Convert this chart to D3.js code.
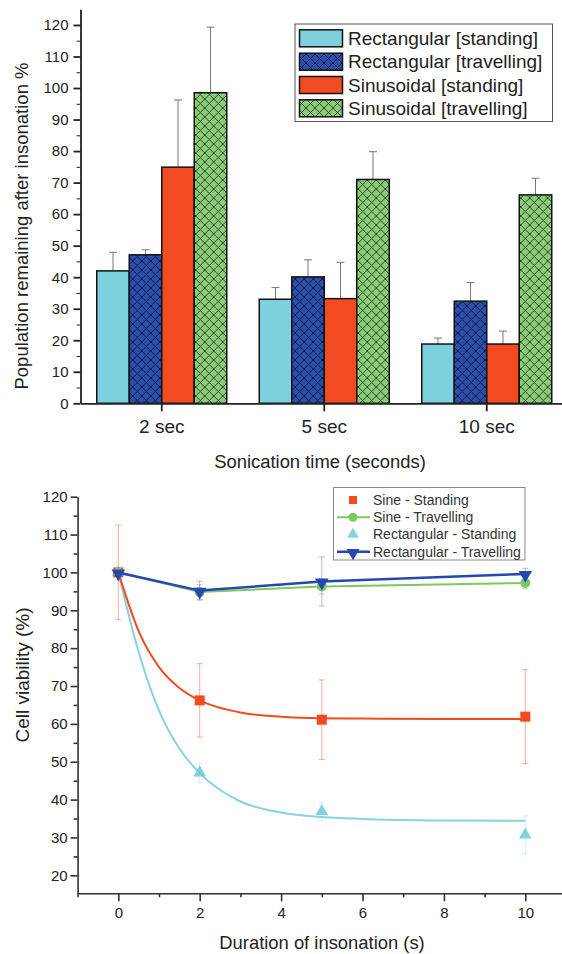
<!DOCTYPE html>
<html><head><meta charset="utf-8">
<script src="https://cdn.jsdelivr.net/npm/d3@7"></script>
<style>
html,body{margin:0;padding:0;background:#fff;}
svg{display:block;font-family:"Liberation Sans",Arial,sans-serif;}
</style></head><body>
<svg id="c" width="562" height="954"></svg>
<script>
// ---------- Top chart data ----------
const categories = ["2 sec", "5 sec", "10 sec"];
const barSeries = ["Rectangular [standing]", "Rectangular [travelling]", "Sinusoidal [standing]", "Sinusoidal [travelling]"];
const rectStanding = [42.0, 33.0, 18.8];
const rectStandingErr = [5.9, 3.7, 1.9];
const rectTravelling = [47.1, 40.1, 32.4];
const rectTravellingErr = [1.6, 5.4, 5.9];
const sinStanding = [74.9, 33.2, 18.8];
const sinStandingErr = [21.3, 11.5, 4.1];
const sinTravelling = [98.5, 71.0, 66.1];
const sinTravellingErr = [20.8, 8.8, 5.3];
const barTicks = [0, 10, 20, 30, 40, 50, 60, 70, 80, 90, 100, 110, 120];
const barMinorTicks = [5, 15, 25, 35, 45, 55, 65, 75, 85, 95, 105, 115];

// ---------- Bottom chart data ----------
const durations = [0, 2, 5, 10];
const sineStandingV = [100, 66.2, 61.1, 61.9];
const sineStandingE = [12.5, 9.7, 10.5, 12.4];
const sineTravellingV = [100, 94.8, 96.3, 97.2];
const sineTravellingE = [0, 2, 2, 1.5];
const rectStandingV = [100, 47.1, 36.9, 30.7];
const rectStandingE = [0, 2.5, 2.5, 5];
const rectTravellingV = [100, 95.2, 97.6, 99.6];
const rectTravellingE = [0, 2.5, 6.5, 1.5];
// fitted curves
const sineFitX = [0, 0.5, 1, 1.5, 2, 3, 4, 5, 6, 8, 10];
const sineFitY = [100, 84.5, 75, 69.5, 66.2, 63, 61.9, 61.5, 61.4, 61.3, 61.3];
const rectFitX = [0, 0.5, 1, 1.5, 2, 3, 4, 5, 6, 8, 10];
const rectFitY = [100, 79, 63.5, 53.5, 47, 39.5, 36.6, 35.4, 34.9, 34.5, 34.4];
const lineTicksX = [0, 2, 4, 6, 8, 10];
const lineMinorX = [-1, 1, 3, 5, 7, 9, 11];
const lineTicksY = [20, 30, 40, 50, 60, 70, 80, 90, 100, 110, 120];
const lineMinorY = [25, 35, 45, 55, 65, 75, 85, 95, 105, 115];

const svg = d3.select("#c");
const font = '"Liberation Sans",Arial,sans-serif';
const ink = "#222";

// patterns
const defs = svg.append("defs");
function hatch(id, bg, lc) {
  const p = defs.append("pattern").attr("id", id).attr("patternUnits", "userSpaceOnUse")
    .attr("width", 9).attr("height", 9);
  p.append("rect").attr("width", 9).attr("height", 9).attr("fill", bg);
  p.append("path").attr("d", "M0,0L9,9M9,0L0,9M-1,8L1,10M8,-1L10,1").attr("stroke", lc).attr("stroke-width", 0.9);
}
hatch("hBlue", "#2c4fae", "#0d1430");
hatch("hGreen", "#8ccb7a", "#1f3d1a");
const barFill = ["#7dd0de", "url(#hBlue)", "#f24b22", "url(#hGreen)"];
const barVals = [rectStanding, rectTravelling, sinStanding, sinTravelling];
const barErrs = [rectStandingErr, rectTravellingErr, sinStandingErr, sinTravellingErr];

// ---------- Top chart ----------
const x0 = d3.scaleBand().domain(categories).range([80.5, 568]).paddingInner(0.2).paddingOuter(0.1);
const x1 = d3.scaleBand().domain(barSeries).range([0, x0.bandwidth()]);
const y = d3.scaleLinear().domain([0, 125]).range([403.3, 9.2]);

const gTop = svg.append("g");
categories.forEach((c, ci) => {
  const g = gTop.append("g").attr("transform", `translate(${x0(c)},0)`);
  barSeries.forEach((s, si) => {
    const v = barVals[si][ci], e = barErrs[si][ci];
    const cx = x1(s) + x1.bandwidth() / 2;
    g.append("line").attr("x1", cx).attr("x2", cx).attr("y1", y(v)).attr("y2", y(v + e))
      .attr("stroke", "#777").attr("stroke-width", 1);
    g.append("line").attr("x1", cx - 4).attr("x2", cx + 4).attr("y1", y(v + e)).attr("y2", y(v + e))
      .attr("stroke", "#777").attr("stroke-width", 1);
    g.append("rect").attr("x", x1(s)).attr("width", x1.bandwidth())
      .attr("y", y(v)).attr("height", y(0) - y(v))
      .attr("fill", barFill[si]).attr("stroke", "#111").attr("stroke-width", 1.5);
  });
});

// axes top
const yAx = svg.append("g").attr("transform", "translate(80.5,0)")
  .call(d3.axisLeft(y).tickValues(barTicks).tickSize(7).tickSizeOuter(0).tickPadding(5));
svg.append("g").attr("transform", "translate(80.5,0)")
  .call(d3.axisLeft(y).tickValues(barMinorTicks).tickSize(4).tickSizeOuter(0).tickFormat(""))
  .select(".domain").remove();
const xAx = svg.append("g").attr("transform", `translate(0,${y(0)})`)
  .call(d3.axisBottom(x0).tickSize(8).tickSizeOuter(0).tickPadding(8));
[yAx, xAx].forEach(a => {
  a.selectAll("path,line").attr("stroke", ink).attr("stroke-width", 1.8);
  a.selectAll("text").attr("fill", ink).attr("font-family", font);
});
yAx.selectAll("text").attr("font-size", 15);
xAx.selectAll("text").attr("font-size", 19);
svg.selectAll("g g.tick line").attr("stroke", ink);

svg.append("text").attr("transform", "translate(28,226) rotate(-90)").attr("text-anchor", "middle")
  .attr("font-size", 18.5).attr("fill", ink).text("Population remaining after insonation %");
svg.append("text").attr("x", 320).attr("y", 468).attr("text-anchor", "middle")
  .attr("font-size", 18.4).attr("fill", ink).text("Sonication time (seconds)");

// legend top
const lg = svg.append("g");
lg.append("rect").attr("x", 295).attr("y", 24).attr("width", 257.5).attr("height", 97.5)
  .attr("fill", "#fff").attr("stroke", "#555").attr("stroke-width", 1);
const rowY = [38.3, 61.7, 85, 108.3];
barSeries.forEach((s, i) => {
  lg.append("rect").attr("x", 299.5).attr("y", rowY[i] - 8.5).attr("width", 43).attr("height", 17)
    .attr("fill", barFill[i]).attr("stroke", "#111").attr("stroke-width", 1.5);
  lg.append("text").attr("x", 348).attr("y", rowY[i] + 6.5).attr("font-size", 19).attr("fill", ink).text(s);
});

// ---------- Bottom chart ----------
const x2 = d3.scaleLinear().domain([-1, 11]).range([77.6, 566]);
const y2 = d3.scaleLinear().domain([15.25, 120]).range([893.3, 496.7]);

const cRed = "#f24b22", cGreen = "#7cc95e", cCyan = "#86d3df", cBlue = "#2647b3";
const gB = svg.append("g");

function errs(vals, es, color, op) {
  durations.forEach((d, i) => {
    if (!es[i]) return;
    gB.append("line").attr("x1", x2(d)).attr("x2", x2(d)).attr("y1", y2(vals[i] - es[i])).attr("y2", y2(vals[i] + es[i]))
      .attr("stroke", color).attr("stroke-width", 1).attr("opacity", op);
    [vals[i] - es[i], vals[i] + es[i]].forEach(v => gB.append("line").attr("x1", x2(d) - 3).attr("x2", x2(d) + 3)
      .attr("y1", y2(v)).attr("y2", y2(v)).attr("stroke", color).attr("stroke-width", 1).attr("opacity", op));
  });
}
errs(rectStandingV, rectStandingE, cCyan, 0.35);
errs(sineStandingV, sineStandingE, cRed, 0.45);
errs(sineTravellingV, sineTravellingE, "#9a9a9a", 0.5);
errs(rectTravellingV, rectTravellingE, "#8a90b0", 0.6);

const curve = d3.line().x(d => x2(d[0])).y(d => y2(d[1])).curve(d3.curveMonotoneX);
const straight = d3.line().x(d => x2(d[0])).y(d => y2(d[1]));

// rect standing fit + markers
gB.append("path").attr("d", curve(rectFitX.map((v, i) => [v, rectFitY[i]])))
  .attr("fill", "none").attr("stroke", cCyan).attr("stroke-width", 2);
const triUp = d3.symbol().type(d3.symbolTriangle).size(70);
durations.forEach((d, i) => gB.append("path").attr("d", triUp())
  .attr("transform", `translate(${x2(d)},${y2(rectStandingV[i])})`).attr("fill", "#6fcad8").attr("opacity", 0.85));

// sine standing fit + markers
gB.append("path").attr("d", curve(sineFitX.map((v, i) => [v, sineFitY[i]])))
  .attr("fill", "none").attr("stroke", cRed).attr("stroke-width", 2);
durations.forEach((d, i) => gB.append("rect").attr("x", x2(d) - 5).attr("y", y2(sineStandingV[i]) - 5)
  .attr("width", 10).attr("height", 10).attr("fill", cRed));

// sine travelling
gB.append("path").attr("d", straight(durations.map((d, i) => [d, sineTravellingV[i]])))
  .attr("fill", "none").attr("stroke", cGreen).attr("stroke-width", 2);
durations.forEach((d, i) => gB.append("circle").attr("cx", x2(d)).attr("cy", y2(sineTravellingV[i])).attr("r", 5)
  .attr("fill", cGreen));

// rect travelling
gB.append("path").attr("d", straight(durations.map((d, i) => [d, rectTravellingV[i]])))
  .attr("fill", "none").attr("stroke", cBlue).attr("stroke-width", 2.5);
const triDown = d3.symbol().type(d3.symbolTriangle).size(80);
durations.forEach((d, i) => gB.append("path").attr("d", triDown())
  .attr("transform", `translate(${x2(d)},${y2(rectTravellingV[i]) + 1}) rotate(180)`).attr("fill", cBlue));

// axes bottom
const yAx2 = svg.append("g").attr("transform", "translate(77.6,0)")
  .call(d3.axisLeft(y2).tickValues(lineTicksY).tickSize(7).tickSizeOuter(0).tickPadding(3));
const yMin2 = svg.append("g").attr("transform", "translate(77.6,0)")
  .call(d3.axisLeft(y2).tickValues(lineMinorY).tickSize(4).tickSizeOuter(0).tickFormat(""));
yMin2.select(".domain").remove();
const xAx2 = svg.append("g").attr("transform", `translate(0,${y2(15.25)})`)
  .call(d3.axisBottom(x2).tickValues(lineTicksX).tickSize(8).tickSizeOuter(0).tickPadding(6));
const xMin2 = svg.append("g").attr("transform", `translate(0,${y2(15.25)})`)
  .call(d3.axisBottom(x2).tickValues(lineMinorX).tickSize(4).tickSizeOuter(0).tickFormat(""));
xMin2.select(".domain").remove();
[yAx2, yMin2, xAx2, xMin2].forEach(a => {
  a.selectAll("path,line").attr("stroke", "#333").attr("stroke-width", 1.6);
  a.selectAll("text").attr("fill", ink).attr("font-family", font).attr("font-size", 15);
});

svg.append("text").attr("transform", "translate(29,675) rotate(-90)").attr("text-anchor", "middle")
  .attr("font-size", 19).attr("fill", ink).text("Cell viability (%)");
svg.append("text").attr("x", 322).attr("y", 949).attr("text-anchor", "middle")
  .attr("font-size", 18.4).attr("fill", ink).text("Duration of insonation (s)");

// legend bottom
const lg2 = svg.append("g");
lg2.append("rect").attr("x", 333.5).attr("y", 487.5).attr("width", 191.5).attr("height", 72.5)
  .attr("fill", "#fff").attr("stroke", "#888").attr("stroke-width", 1);
const lNames = ["Sine - Standing", "Sine - Travelling", "Rectangular - Standing", "Rectangular - Travelling"];
const lRow = [500, 517.3, 534.3, 551.7];
lNames.forEach((n, i) => lg2.append("text").attr("x", 373).attr("y", lRow[i] + 5).attr("font-size", 14)
  .attr("fill", "#333").text(n));
lg2.append("rect").attr("x", 349).attr("y", lRow[0] - 4).attr("width", 8).attr("height", 8).attr("fill", cRed);
lg2.append("line").attr("x1", 337).attr("x2", 370).attr("y1", lRow[1]).attr("y2", lRow[1]).attr("stroke", cGreen).attr("stroke-width", 2);
lg2.append("circle").attr("cx", 353).attr("cy", lRow[1]).attr("r", 4.5).attr("fill", cGreen);
lg2.append("path").attr("d", d3.symbol().type(d3.symbolTriangle).size(60)()).attr("transform", `translate(353,${lRow[2]})`).attr("fill", "#6fcad8").attr("opacity", 0.85);
lg2.append("line").attr("x1", 337).attr("x2", 370).attr("y1", lRow[3]).attr("y2", lRow[3]).attr("stroke", cBlue).attr("stroke-width", 2.5);
lg2.append("path").attr("d", d3.symbol().type(d3.symbolTriangle).size(75)()).attr("transform", `translate(353,${lRow[3] + 1}) rotate(180)`).attr("fill", cBlue);
</script></body></html>
